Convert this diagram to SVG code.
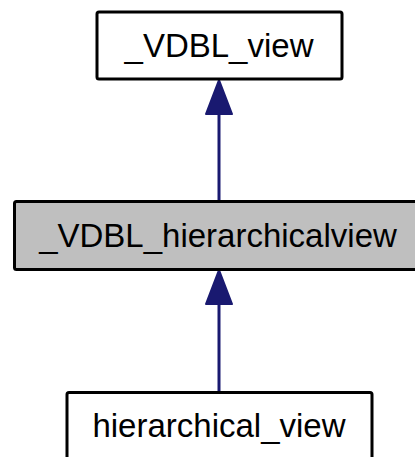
<svg xmlns="http://www.w3.org/2000/svg" width="415" height="457" viewBox="0 0 415 457">
<style>
.box{stroke:#000;stroke-width:3;}
.lbl{font-family:"Liberation Sans",Arial,Helvetica,sans-serif;font-size:33px;fill:#000;text-anchor:middle;}
.edge{stroke:#191970;stroke-width:3;fill:none;}
.head{fill:#191970;stroke:#191970;stroke-width:2;stroke-linejoin:round;}
</style>
<rect width="415" height="457" fill="#fff"/>
<g id="connectors">
<path class="edge" d="M219,201 L219,112"/>
<path class="head" d="M219,80 L232,114 L206,114 Z"/>
<path class="edge" d="M219,392 L219,302"/>
<path class="head" d="M219,270 L232,304 L206,304 Z"/>
</g>
<g id="node_VDBL_view">
<rect class="box" x="97" y="12" width="245" height="67" rx="2" fill="#fff"/>
<text class="lbl" x="219" y="57">_VDBL_view</text>
</g>
<g id="node_VDBL_hierarchicalview">
<rect class="box" x="14.5" y="201.5" width="410" height="68" rx="2" fill="#bfbfbf"/>
<text class="lbl" x="218" y="247">_VDBL_hierarchicalview</text>
</g>
<g id="node_hierarchical_view">
<rect class="box" x="67" y="392.5" width="305" height="80" rx="2" fill="#fff"/>
<text class="lbl" x="219" y="437">hierarchical_view</text>
</g>
</svg>
